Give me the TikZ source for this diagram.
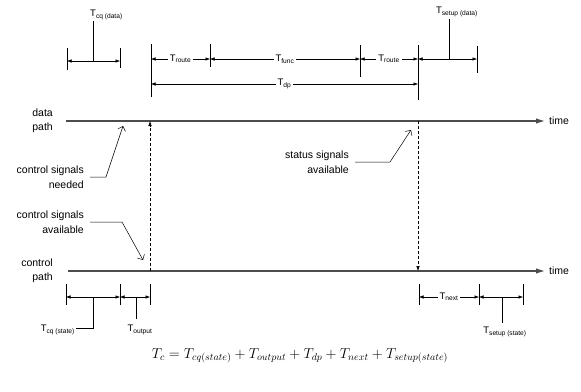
\documentclass[tikz,border=0pt]{standalone}
\usepackage{fontspec}
\setmainfont{Liberation Sans}
\usetikzlibrary{arrows.meta}
\newcommand{\tsub}[1]{T\textsubscript{#1}}
\begin{document}
\begin{tikzpicture}[x=1pt,y=-1pt,
    timeline/.style={line width=1.2pt,draw=black!70,-{Latex[length=9pt,width=5.5pt]}},
    dim/.style={line width=0.5pt,{Latex[length=4.5pt,width=3.5pt]}-{Latex[length=4.5pt,width=3.5pt]}},
    ticks/.style={line width=0.6pt},
    leader/.style={line width=0.5pt},
    sig/.style={line width=0.5pt,densely dashed,-{Latex[length=5pt,width=3.5pt]}},
    lab/.style={font=\fontsize{10.5}{14.5}\selectfont,align=right,inner sep=1pt},
    tlab/.style={font=\fontsize{9.5}{10}\selectfont,inner sep=1pt},
    midlab/.style={tlab,fill=white,inner sep=2pt}]
  \useasboundingbox (0,0) rectangle (581,391);

  % Time axes
  \coordinate (dstart) at (66,121);
  \coordinate (dend) at (545,121);
  \coordinate (cstart) at (68,271);
  \coordinate (cend) at (545,271);
  \draw[timeline] (dstart) -- (dend);
  \draw[timeline] (cstart) -- (cend);
  \node[lab,anchor=west] (time1) at (548,121) {time};
  \node[lab,anchor=west] (time2) at (548,271) {time};
  \node[lab,anchor=east] (dpath) at (54,121) {data\\path};
  \node[lab,anchor=east] (cpath) at (54,271) {control\\path};

  % Signals between the two paths
  \coordinate (go) at (150,271);
  \coordinate (goend) at (150,121);
  \coordinate (back) at (418,121);
  \coordinate (backend) at (418,271);
  \draw[sig] (go) -- (goend);
  \draw[sig] (back) -- (backend);

  % Annotations
  \node[lab,anchor=east] (needed) at (85,177) {control signals\\needed};
  \node[lab,anchor=east] (avail) at (85,222) {control signals\\available};
  \node[lab,anchor=east] (status) at (350,162) {status signals\\available};
  \coordinate (neededtip) at (123,126);
  \coordinate (availtip) at (143,260);
  \coordinate (statustip) at (411,130);
  \draw[leader,-{Straight Barb[length=4pt]}] (needed.east) ++(5,0) -- ++(16,0) -- (neededtip);
  \draw[leader,-{Straight Barb[length=4pt]}] (avail.east) ++(5,0) -- ++(32,0) -- (availtip);
  \draw[leader,-{Straight Barb[length=4pt]}] (status.east) ++(5,0) -- ++(35,0) -- (statustip);

  % Upper dimensions
  \foreach \x/\n in {67/a1,120/a2} \coordinate (\n) at (\x,61);
  \foreach \x/\n in {151/b1,210/b2,360/b3,418/b4,477/b5} \coordinate (\n) at (\x,59);
  \foreach \x/\n in {151/c1,418/c2} \coordinate (\n) at (\x,84);
  \draw[ticks] (67,48) -- (67,70);
  \draw[ticks] (120,48) -- (120,68);
  \draw[ticks] (151,44) -- (151,97);
  \draw[ticks] (210,44) -- (210,67);
  \draw[ticks] (360,45) -- (360,77);
  \draw[ticks] (418,45) -- (418,100);
  \draw[ticks] (477,46) -- (477,73);
  \draw[dim] (a1) -- (a2);
  \draw[dim] (b1) -- node[midlab] (troute1) {\tsub{route}} (b2);
  \draw[dim] (b2) -- node[midlab] (tfunc) {\tsub{func}} (b3);
  \draw[dim] (b3) -- node[midlab] (troute2) {\tsub{route}} (b4);
  \draw[dim] (b4) -- (b5);
  \draw[dim] (c1) -- node[midlab] (tdp) {\tsub{dp}} (c2);
  \node[tlab,anchor=west] (tcqdata) at (89,15) {\tsub{cq (data)}};
  \node[tlab] (tsetupdata) at (457,12) {\tsub{setup (data)}};
  \draw[ticks] (93,61) -- (tcqdata.south west -| 93,0);
  \draw[ticks] (449,59) -- (449,19);

  % Lower dimensions
  \foreach \x/\n in {66/d1,120/d2,150/d3,419/d4,479/d5,523/d6} \coordinate (\n) at (\x,297);
  \foreach \n in {d1,d2,d3,d4,d5,d6} \draw[ticks] (\n) ++(0,-13) -- ++(0,21);
  \draw[dim] (d1) -- (d2);
  \draw[dim] (d2) -- (d3);
  \draw[dim] (d4) -- node[midlab] (tnext) {\tsub{next}} (d5);
  \draw[dim] (d5) -- (d6);
  \node[tlab,anchor=east] (tcqstate) at (76,330) {\tsub{cq (state)}};
  \node[tlab] (toutput) at (140,330) {\tsub{output}};
  \node[tlab] (tsetupstate) at (505,332) {\tsub{setup (state)}};
  \draw[ticks] (93,297) -- (93,328) -- (tcqstate.east |- 0,328);
  \draw[ticks] (136,297) -- (136,319);
  \draw[ticks] (502,297) -- (502,323);

  % Cycle time
  \node[font=\fontsize{14}{16}\selectfont] (tc) at (300,356)
    {$T_c = T_{cq(state)} + T_{output} + T_{dp} + T_{next} + T_{setup(state)}$};
\end{tikzpicture}
\end{document}
